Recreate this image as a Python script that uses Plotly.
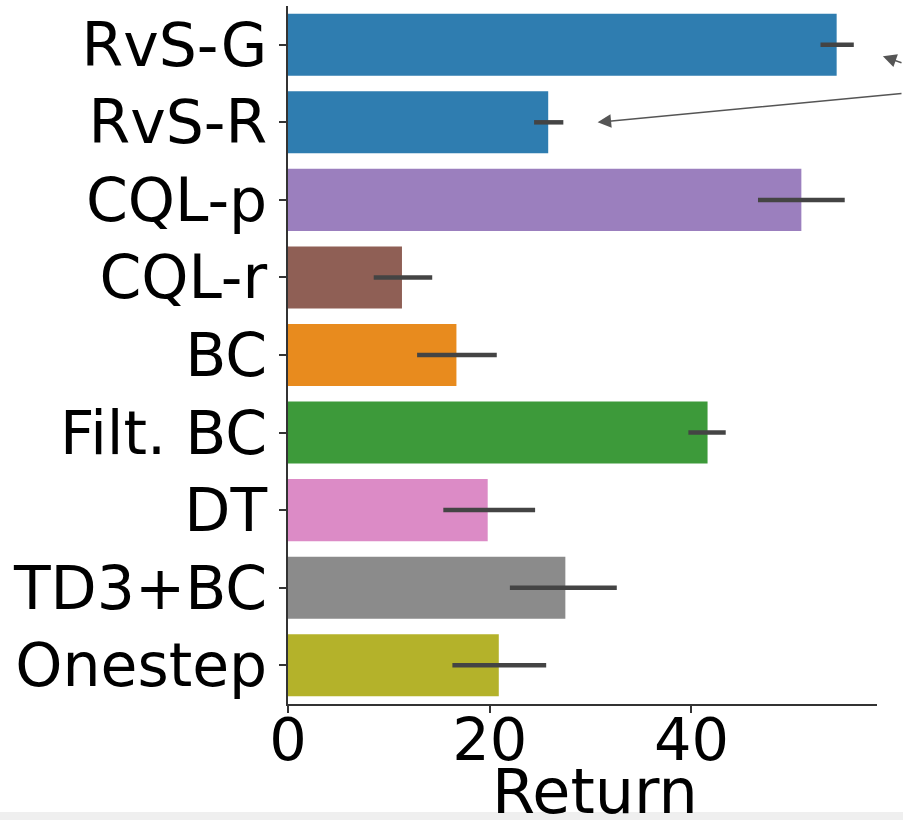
import plotly.graph_objects as go

methods = ["RvS-G", "RvS-R", "CQL-p", "CQL-r", "BC", "Filt. BC", "DT", "TD3+BC", "Onestep"]
mean_return = [54.4, 25.8, 50.9, 11.3, 16.7, 41.6, 19.8, 27.5, 20.9]
ci_low = [52.8, 24.4, 46.6, 8.5, 12.8, 39.7, 15.4, 22.0, 16.3]
ci_high = [56.1, 27.3, 55.2, 14.3, 20.7, 43.4, 24.5, 32.6, 25.6]
bar_colors = ["#2f7db0", "#2f7db0", "#9b7fbe", "#8f5f55", "#e88b1e",
              "#3d9a3a", "#dc8bc6", "#8b8b8b", "#b4b22a"]
x_ticks = [0, 20, 40]

err_plus = [h - m for h, m in zip(ci_high, mean_return)]
err_minus = [m - l for m, l in zip(mean_return, ci_low)]

fig = go.Figure()
fig.add_trace(go.Bar(
    x=mean_return, y=methods, orientation="h",
    marker=dict(color=bar_colors, line=dict(width=0)),
    error_x=dict(type="data", array=err_plus, arrayminus=err_minus,
                 color="#444444", thickness=4.5, width=0),
))

font = "DejaVu Sans, sans-serif"
fig.update_layout(
    width=903, height=820,
    margin=dict(l=288, r=26, t=6, b=116),
    paper_bgcolor="white", plot_bgcolor="white",
    bargap=0.2, showlegend=False,
    font=dict(family=font, color="black"),
)
fig.update_xaxes(
    range=[0, 58.4], tickvals=x_ticks, ticktext=[str(t) for t in x_ticks],
    automargin=False, ticklabelstandoff=-24,
    showgrid=False, zeroline=False, showline=True, linecolor="#333333", linewidth=1.6,
    ticks="outside", ticklen=7, tickwidth=1.6, tickcolor="#333333",
    tickfont=dict(size=59, family=font, color="black"),
)
fig.update_yaxes(
    categoryorder="array", categoryarray=methods, range=[8.5, -0.5],
    automargin=False,
    showgrid=False, zeroline=False, showline=True, linecolor="#333333", linewidth=1.6,
    ticks="outside", ticklen=7, tickwidth=1.6, tickcolor="#333333",
    tickfont=dict(size=60, family=font, color="black"),
)

# bottom light strip of the screenshot
fig.add_shape(type="rect", xref="paper", yref="paper", x0=-0.5, x1=1.1,
              y0=-0.1547, y1=-0.18, fillcolor="#efefef", line=dict(width=0), layer="below")

# x-axis title
fig.add_annotation(text="Return", x=0.522, y=-0.126, xref="paper", yref="paper",
                   xanchor="center", yanchor="middle", showarrow=False,
                   font=dict(size=62, family=font, color="black"))

fig.add_annotation(x=30.7, y="RvS-R", xref="x", yref="y", ax=307, ay=-29,
                   text="", showarrow=True, arrowhead=2, arrowsize=1.8,
                   arrowwidth=1.5, arrowcolor="#555555")
fig.add_annotation(x=1.01, y=0.928, xref="paper", yref="paper", ax=22, ay=7,
                   text="", showarrow=True, arrowhead=2, arrowsize=1.8,
                   arrowwidth=1.5, arrowcolor="#555555")

fig.write_html("out.html", config={"displayModeBar": False},
               post_script="document.body.style.margin='0';")
